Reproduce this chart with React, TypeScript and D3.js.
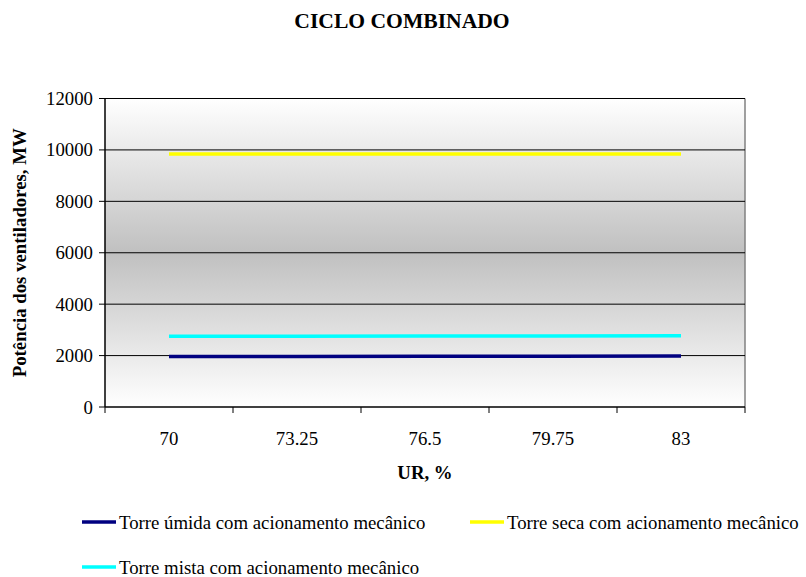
import React from "react";
import * as d3 from "d3";

const categories = ["70", "73.25", "76.5", "79.75", "83"];
const umida = [1960, 1965, 1970, 1975, 1980];
const seca = [9840, 9840, 9840, 9840, 9840];
const mista = [2750, 2755, 2760, 2765, 2770];
const yTicks = [0, 2000, 4000, 6000, 8000, 10000, 12000];

const series = [
  { name: "Torre úmida com acionamento mecânico", values: umida, color: "#000080" },
  { name: "Torre seca com acionamento mecânico", values: seca, color: "#FFFF00" },
  { name: "Torre mista com acionamento mecânico", values: mista, color: "#00FFFF" },
];

export default function App() {
  const W = 806, H = 577;
  const left = 105, right = 745, top = 98.5, bottom = 407;
  const x = d3.scaleBand<string>().domain(categories).range([left, right]);
  const y = d3.scaleLinear().domain([0, 12000]).range([bottom, top]);
  const font = "Liberation Serif";
  const line = d3.line<number>()
    .x((_, i) => (x(categories[i]) as number) + x.bandwidth() / 2)
    .y((d) => y(d));
  const boundaries = categories.map((c) => x(c) as number).concat([right]);
  const legendItems = [
    { s: series[0], lx: 82, ly: 522 },
    { s: series[1], lx: 470, ly: 522 },
    { s: series[2], lx: 82, ly: 567 },
  ];
  const fs = 18.8;
  return (
    <svg width={W} height={H} style={{ position: "absolute", left: 0, top: 0, background: "#fff", fontFamily: font }}>
      <defs>
        <linearGradient id="bg" x1="0" y1="0" x2="0" y2="1">
          <stop offset="0%" stopColor="#ffffff" />
          <stop offset="50%" stopColor="#c0c0c0" />
          <stop offset="100%" stopColor="#ffffff" />
        </linearGradient>
      </defs>
      <text x={402} y={28} textAnchor="middle" fontSize={21.6} fontWeight="bold" style={{ fontFamily: font }}>CICLO COMBINADO</text>
      <rect x={left} y={top} width={right - left} height={bottom - top} fill="url(#bg)" />
      <line x1={right} x2={right} y1={top} y2={bottom} stroke="#808080" strokeWidth={1.5} />
      {yTicks.map((t) => (
        <g key={t}>
          {t > 0 && <line x1={left} x2={right} y1={y(t)} y2={y(t)} stroke="#000" strokeWidth={1} />}
          <line x1={left - 6} x2={left} y1={y(t)} y2={y(t)} stroke="#000" strokeWidth={1} />
          <text x={left - 12} y={y(t)} dy="0.35em" textAnchor="end" fontSize={fs} style={{ fontFamily: font }}>{t}</text>
        </g>
      ))}
      <line x1={left} x2={left} y1={top} y2={bottom} stroke="#000" strokeWidth={1.5} />
      <line x1={left} x2={right} y1={bottom} y2={bottom} stroke="#000" strokeWidth={1.5} />
      {boundaries.map((b, i) => (
        <line key={i} x1={b} x2={b} y1={bottom} y2={bottom + 6} stroke="#000" strokeWidth={1} />
      ))}
      {categories.map((c) => (
        <text key={c} x={(x(c) as number) + x.bandwidth() / 2} y={445} textAnchor="middle" fontSize={fs} style={{ fontFamily: font }}>{c}</text>
      ))}
      <text x={425} y={479} textAnchor="middle" fontSize={fs} fontWeight="bold" style={{ fontFamily: font }}>UR, %</text>
      <text transform={`translate(26, ${(top + bottom) / 2}) rotate(-90)`} textAnchor="middle" fontSize={fs} fontWeight="bold" style={{ fontFamily: font }}>
        Potência dos ventiladores, MW
      </text>
      {series.map((s) => (
        <path key={s.name} d={line(s.values) || ""} fill="none" stroke={s.color} strokeWidth={3.5} />
      ))}
      {legendItems.map(({ s, lx, ly }) => (
        <g key={s.name}>
          <line x1={lx} x2={lx + 34} y1={ly} y2={ly} stroke={s.color} strokeWidth={3.5} />
          <text x={lx + 37} y={ly} dy="0.35em" fontSize={fs} style={{ fontFamily: font }}>{s.name}</text>
        </g>
      ))}
    </svg>
  );
}
